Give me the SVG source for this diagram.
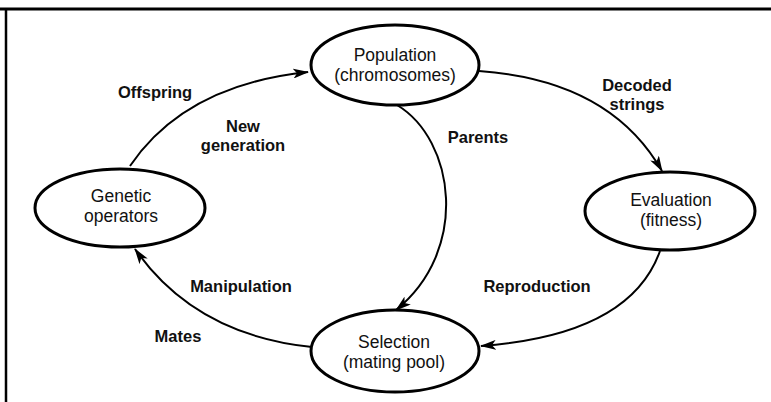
<svg xmlns="http://www.w3.org/2000/svg" width="771" height="402" viewBox="0 0 771 402">
<style>
.node ellipse{fill:#fff;stroke:#000;stroke-width:3}
.nt{font-family:"Liberation Sans",Arial,sans-serif;font-size:17.5px;fill:#111;text-anchor:middle}
.lb{font-family:"Liberation Sans",Arial,sans-serif;font-size:16.5px;font-weight:bold;fill:#111;text-anchor:middle}
.conn path{fill:none;stroke:#000;stroke-width:2}
</style>
<defs>
<marker id="ah" viewBox="0 0 16 10" refX="15" refY="5" markerWidth="16" markerHeight="10" markerUnits="userSpaceOnUse" orient="auto">
<path d="M0,0 L16,5 L0,10 L4,5 Z" fill="#000"/>
</marker>
</defs>
<rect width="771" height="402" fill="#fff"/>
<g id="frame" stroke="#000" fill="none">
<line x1="0" y1="9" x2="771" y2="9" stroke-width="3"/>
<line x1="6" y1="9" x2="6" y2="402" stroke-width="2.5"/>
</g>
<g class="conn" id="connectors">
<path d="M130,166 Q185,85 308,72" marker-end="url(#ah)"/>
<path d="M479,71 Q610,80 662,171" marker-end="url(#ah)"/>
<path d="M660,251 Q630,335 481,346" marker-end="url(#ah)"/>
<path d="M397,105 C455,140 470,250 396,310" marker-end="url(#ah)"/>
<path d="M312,347 Q195,335 135,249" marker-end="url(#ah)"/>
</g>
<g class="node" id="population">
<ellipse cx="395" cy="65" rx="84" ry="40"/>
<text class="nt" x="395" y="61">Population</text>
<text class="nt" x="395" y="81">(chromosomes)</text>
</g>
<g class="node" id="genetic">
<ellipse cx="120" cy="208" rx="85" ry="39"/>
<text class="nt" x="121" y="202">Genetic</text>
<text class="nt" x="121" y="222">operators</text>
</g>
<g class="node" id="evaluation">
<ellipse cx="670" cy="211" rx="85" ry="39"/>
<text class="nt" x="671" y="206">Evaluation</text>
<text class="nt" x="671" y="226">(fitness)</text>
</g>
<g class="node" id="selection">
<ellipse cx="395" cy="351" rx="84" ry="41"/>
<text class="nt" x="394" y="348">Selection</text>
<text class="nt" x="394" y="368">(mating pool)</text>
</g>
<g id="labels">
<text class="lb" x="155" y="98">Offspring</text>
<text class="lb" x="243" y="132">New</text>
<text class="lb" x="243" y="151">generation</text>
<text class="lb" x="637" y="91">Decoded</text>
<text class="lb" x="637" y="110">strings</text>
<text class="lb" x="478" y="143">Parents</text>
<text class="lb" x="241" y="292">Manipulation</text>
<text class="lb" x="178" y="342">Mates</text>
<text class="lb" x="537" y="292">Reproduction</text>
</g>
</svg>
